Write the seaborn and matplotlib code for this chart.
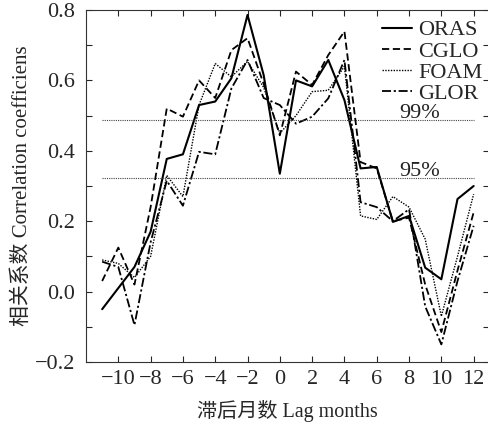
import numpy as np
import pandas as pd
import matplotlib
matplotlib.use("Agg")
import matplotlib.pyplot as plt
from matplotlib.ticker import MultipleLocator
import seaborn as sns

lags = list(range(-11, 13))
oras = [-0.05, 0.01, 0.07, 0.17, 0.377, 0.39, 0.53, 0.54, 0.606, 0.786, 0.615, 0.335,
        0.60, 0.583, 0.658, 0.544, 0.35, 0.354, 0.198, 0.215, 0.068, 0.035, 0.263, 0.30]
cglo = [0.03, 0.125, 0.02, 0.24, 0.52, 0.497, 0.60, 0.55, 0.686, 0.72, 0.59, 0.444,
        0.625, 0.587, 0.672, 0.739, 0.368, 0.35, 0.20, 0.21, 0.02, -0.115, 0.06, 0.225]
foam = [0.09, 0.08, 0.04, 0.10, 0.33, 0.27, 0.53, 0.648, 0.61, 0.654, 0.58, 0.45,
        0.50, 0.568, 0.572, 0.64, 0.215, 0.205, 0.27, 0.24, 0.149, -0.07, 0.10, 0.277]
glor = [0.085, 0.07, -0.095, 0.14, 0.315, 0.244, 0.397, 0.39, 0.577, 0.658, 0.55, 0.53,
        0.477, 0.497, 0.549, 0.658, 0.254, 0.24, 0.20, 0.234, -0.042, -0.15, 0.03, 0.187]
series_names = ["ORAS", "CGLO", "FOAM", "GLOR"]
sig_levels = [0.487, 0.323]
sig_labels = ["99%", "95%"]
xticks = list(range(-10, 13, 2))

df = pd.DataFrame({
    "lag": lags * 4,
    "value": oras + cglo + foam + glor,
    "model": sum([[n] * len(lags) for n in series_names], []),
})

sns.set_style("ticks")
serif = ["Liberation Serif", "Noto Sans CJK SC"]
plt.rcParams["font.family"] = serif
plt.rcParams["axes.unicode_minus"] = True

fig = plt.figure(figsize=(4.89, 4.30), dpi=100)
ax = fig.add_axes([86 / 489, 68 / 430, 403 / 489, 352 / 430])

dashes = {"ORAS": "", "CGLO": (4, 2), "FOAM": (1, 1), "GLOR": (5, 1.5, 1.2, 1.5)}
widths = {"ORAS": 1.5, "CGLO": 1.3, "FOAM": 1.0, "GLOR": 1.3}
for n in series_names:
    sub = df[df["model"] == n]
    sns.lineplot(data=sub, x="lag", y="value", ax=ax, color="black",
                 linewidth=widths[n], dashes=False, label=n, legend=False,
                 linestyle="-" if dashes[n] == "" else (0, dashes[n]))

for lvl, lab in zip(sig_levels, sig_labels):
    ax.plot([lags[0], lags[-1]], [lvl, lvl], color="#444444", linestyle=(0, (1, 1)),
            linewidth=0.8)
    ax.text(8.65, lvl - 0.008, lab, fontsize=16, ha="center", va="bottom",
            color="#222222")

ax.set_xlim(-12, 12.95)
ax.set_ylim(-0.2, 0.8)
ax.set_xticks(xticks)
ax.set_xticklabels([f"{t}".replace("-", "\u2212") for t in xticks])
ax.yaxis.set_major_locator(MultipleLocator(0.2))
ax.yaxis.set_minor_locator(MultipleLocator(0.1))
ax.set_yticklabels([f"{v:.1f}".replace("-", "\u2212") for v in ax.get_yticks()])
ax.tick_params(axis="both", which="both", direction="in", top=True, right=True,
               labelsize=16, length=4, width=0.8)
ax.tick_params(axis="y", which="both", pad=8)
ax.tick_params(axis="x", which="both", pad=6)
for sp in ax.spines.values():
    sp.set_linewidth(0.8)
    sp.set_color("#333333")

ax.set_xlabel("滞后月数 Lag months", fontsize=14.5, labelpad=8)
ax.set_ylabel("相关系数 Correlation coefficiens", fontsize=15, labelpad=2)

leg = ax.legend(loc="upper right", frameon=False, fontsize=16, handlelength=1.35,
                handletextpad=0.3, labelspacing=0.03, borderaxespad=0.0,
                borderpad=0.2, bbox_to_anchor=(0.995, 0.985))

fig.savefig("out.png", dpi=100)
